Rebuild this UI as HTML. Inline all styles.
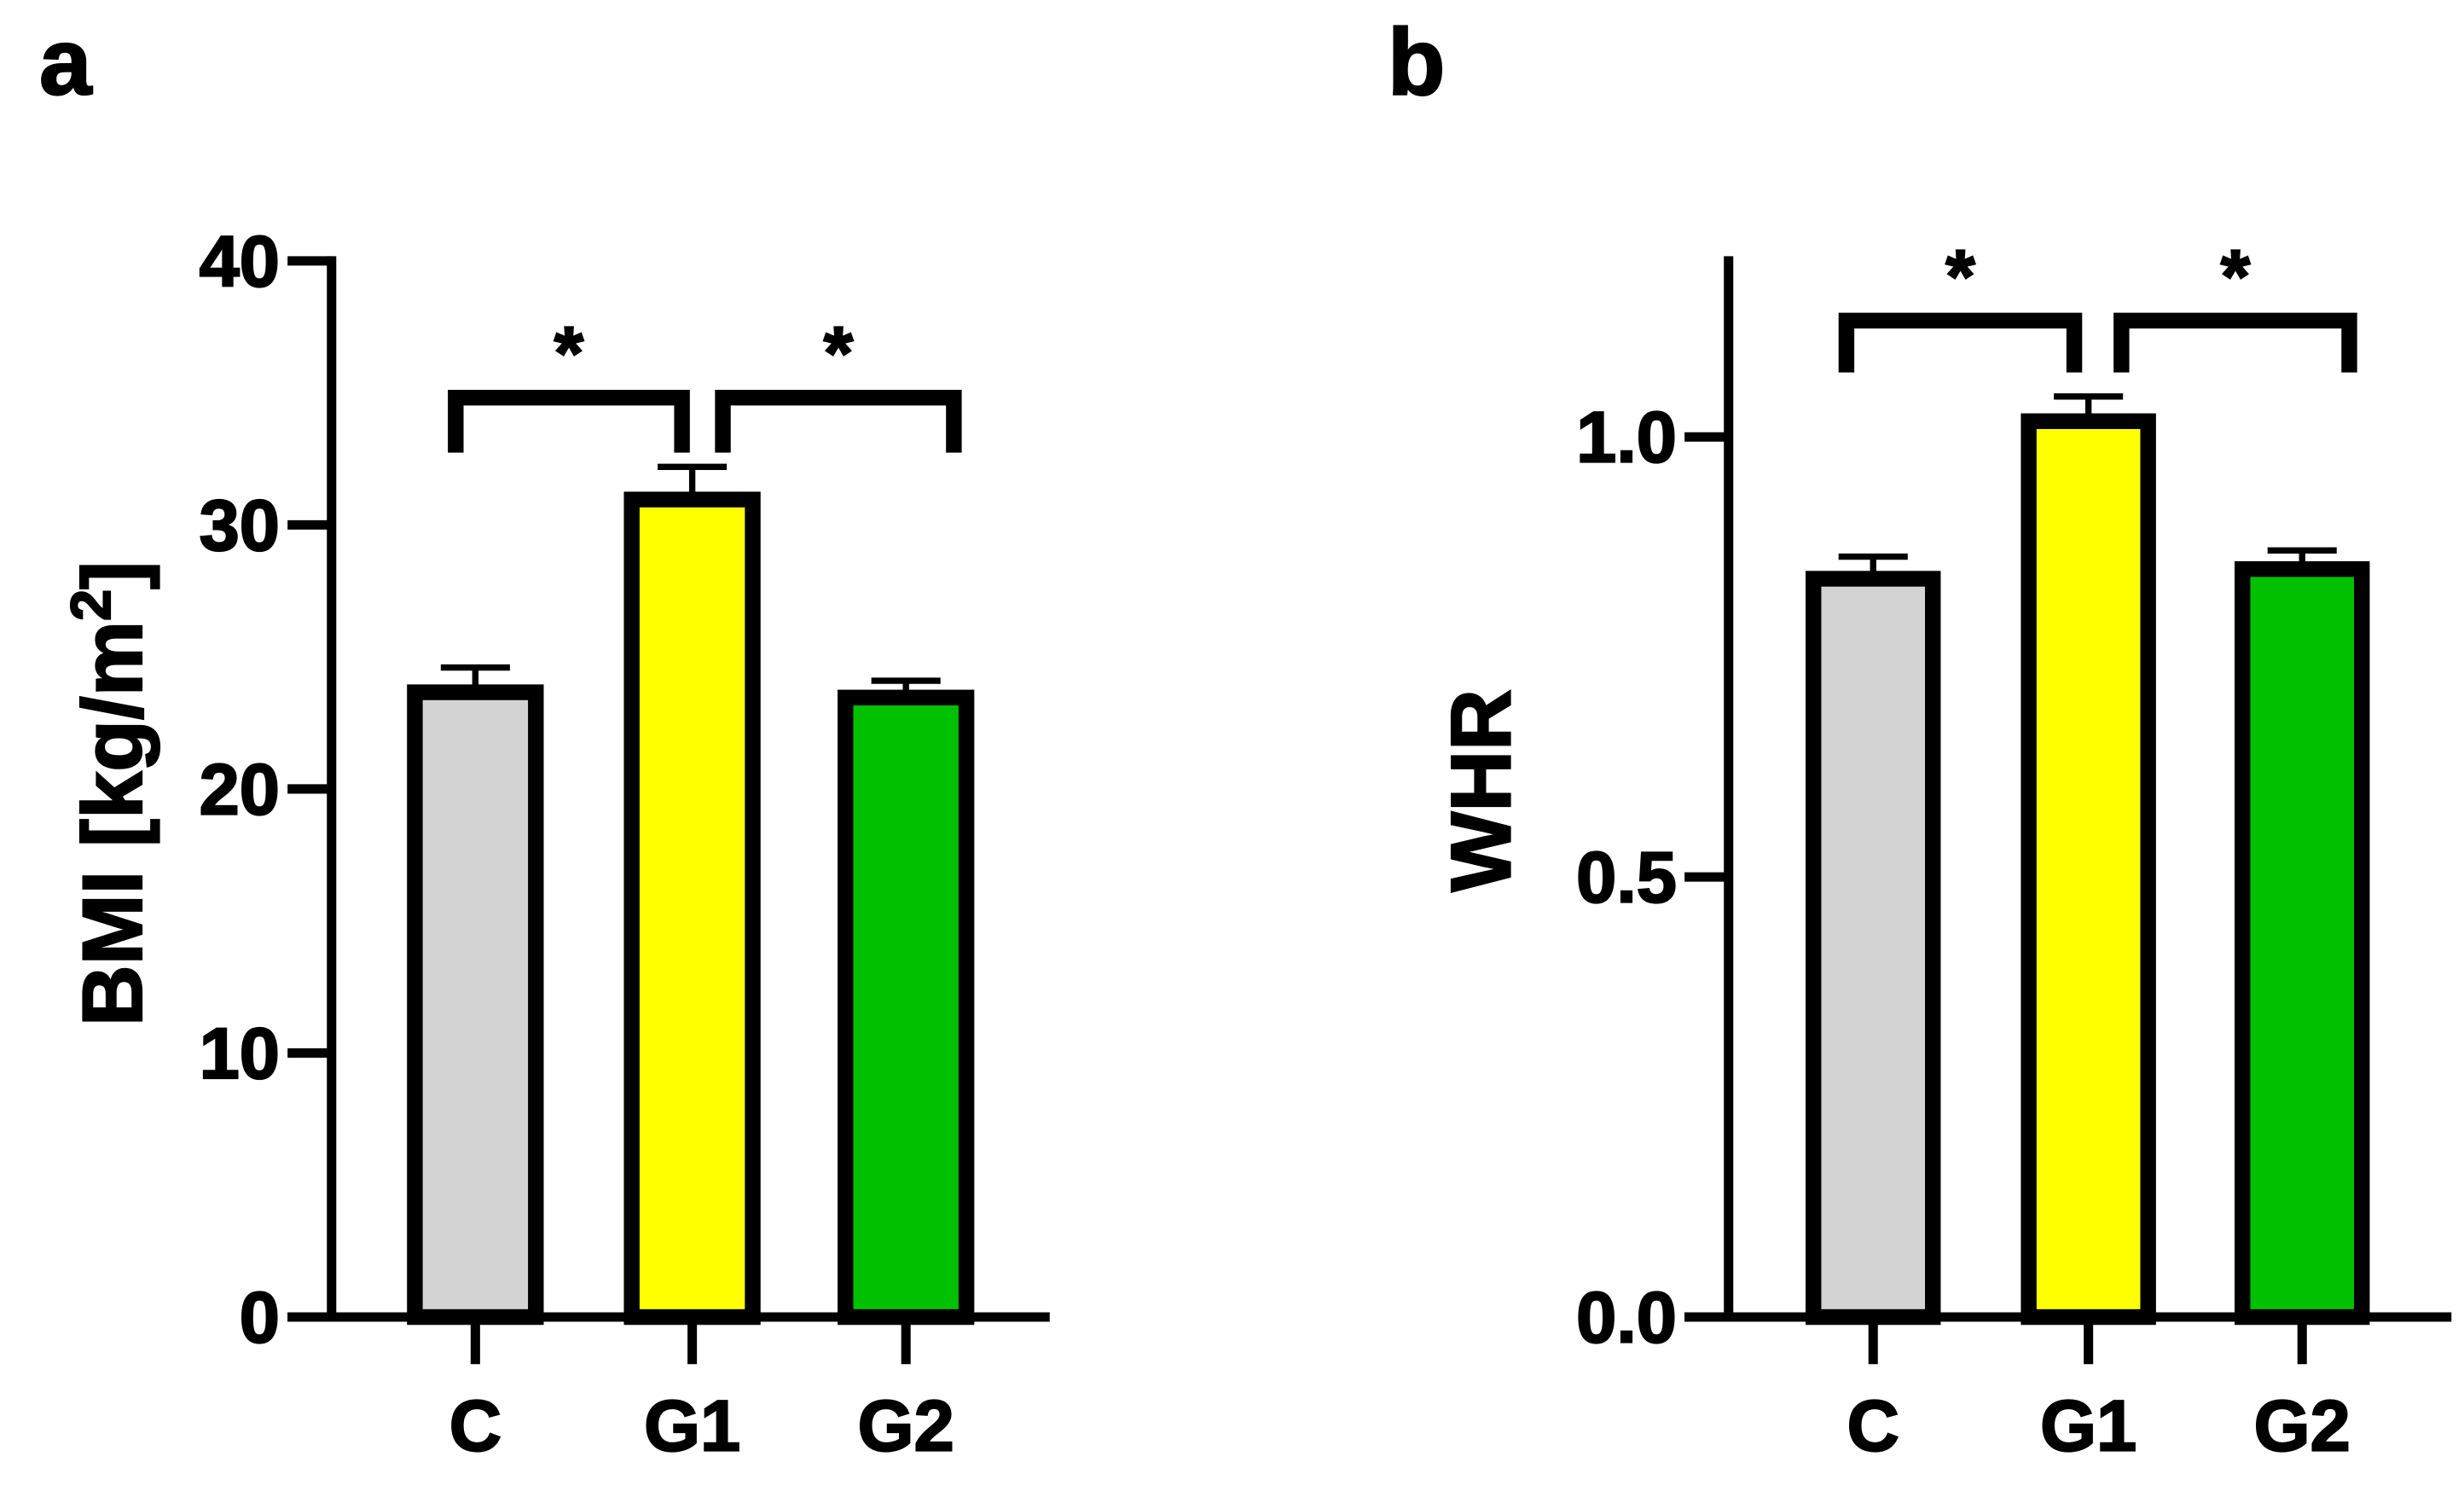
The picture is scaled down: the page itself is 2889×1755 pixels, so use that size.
<!DOCTYPE html>
<html><head><meta charset="utf-8"><style>html,body{margin:0;padding:0;background:#fff}svg{display:block}text{font-family:"Liberation Sans",Arial,sans-serif;font-weight:bold;fill:#000;stroke:#000;stroke-width:1.2}</style></head>
<body>
<svg id="fig" width="2889" height="1755" viewBox="0 0 1568 952.5" preserveAspectRatio="none" xmlns="http://www.w3.org/2000/svg"></svg>
<script>
const cats = ["C","G1","G2"];
const bmiVals = [23.9, 31.2, 23.7];
const bmiErr = [0.7, 1.0, 0.4];
const bmiTicks = [0,10,20,30,40];
const whrVals = [0.846, 1.025, 0.857];
const whrErr = [0.018, 0.021, 0.014];
const whrTicks = ["0.0","0.5","1.0"];
const colors = ["#d3d3d3","#ffff00","#00c000"];
const NS="http://www.w3.org/2000/svg";
const svg=document.getElementById('fig');
function mk(tag,attrs,parent){const e=document.createElementNS(NS,tag);for(const k in attrs)e.setAttribute(k,attrs[k]);(parent||svg).appendChild(e);return e;}
function panel(cfg){
  const g=mk('g',{});
  
  
  const y=v=>cfg.y0-(v-cfg.vmin)/(cfg.vmax-cfg.vmin)*(cfg.y0-cfg.yTop);
  cfg.vals.forEach((v,i)=>{
    const x=cfg.barX[i];
    const r=mk('rect',{x:x+5,y:y(v)+4,width:cfg.bw-10,height:cfg.y0-y(v)-4,fill:colors[i],stroke:'#000','stroke-width':10},g);
    
    
    const cx=x+cfg.bw/2;
    const e=mk('path',{d:`M${cx},${y(v)} V${y(v+cfg.err[i])} M${cx-22},${y(v+cfg.err[i])} H${cx+22}`,stroke:'#000','stroke-width':4,fill:'none'},g);
    
    
    mk('path',{d:`M${cx},${cfg.y0} V${cfg.y0+30}`,stroke:'#000','stroke-width':6},g);
    const l=mk('text',{x:cx,y:cfg.y0+85,'text-anchor':'middle','font-size':46},g);
    l.textContent=cats[i];
    
    
  });
  const ax=mk('path',{d:`M${cfg.ax},${cfg.axTop} V${cfg.y0} M${cfg.ax-28},${cfg.y0} H${cfg.xEnd}`,stroke:'#000','stroke-width':6,fill:'none'},g);
  
  
  cfg.ticks.forEach(t=>{
    const yy=y(parseFloat(t));
    mk('path',{d:`M${cfg.ax-28},${yy} H${cfg.ax}`,stroke:'#000','stroke-width':6},g);
    const tl=mk('text',{x:cfg.ax-33,y:yy+16,'text-anchor':'end','font-size':46},g);
    tl.textContent=t;
    
    
  });
  cfg.brackets.forEach(b=>{
    const p=mk('path',{d:`M${b[0]},${b[3]} V${b[2]} H${b[1]} V${b[3]}`,stroke:'#000','stroke-width':10,fill:'none'},g);
    
    
    const s=mk('text',{x:(b[0]+b[1])/2,y:b[2]-12,'text-anchor':'middle','font-size':48},g);
    s.textContent='*';
    
    
  });
  const tt=mk('text',{transform:`translate(${cfg.titleX},${cfg.titleY}) rotate(-90)`,'text-anchor':'middle','font-size':54},g);
  tt.innerHTML=cfg.title;
  
  
  const pl=mk('text',{x:cfg.letterX,y:60,'font-size':60},g);
  pl.textContent=cfg.letter;
  
  
}
panel({name:'panel-a-bmi',y0:838,yTop:166,vmin:0,vmax:40,vals:bmiVals,err:bmiErr,ticks:bmiTicks.map(String),
  barX:[259,397,533],bw:87,ax:211,axTop:163,xEnd:668,
  brackets:[[290,434,253,288],[460,607,253,288]],
  title:'BMI  [kg/m<tspan baseline-shift="super" font-size="36">2</tspan>]',titleX:90,titleY:505,letter:'a',letterX:25});
panel({name:'panel-b-whr',y0:838,yTop:278,vmin:0,vmax:1.0,vals:whrVals,err:whrErr,ticks:whrTicks,
  barX:[1149,1286,1422],bw:86,ax:1100,axTop:163,xEnd:1560,
  brackets:[[1175,1320,204,237],[1350,1495,204,237]],
  title:'WHR',titleX:961,titleY:503,letter:'b',letterX:883});
</script>
</body></html>
